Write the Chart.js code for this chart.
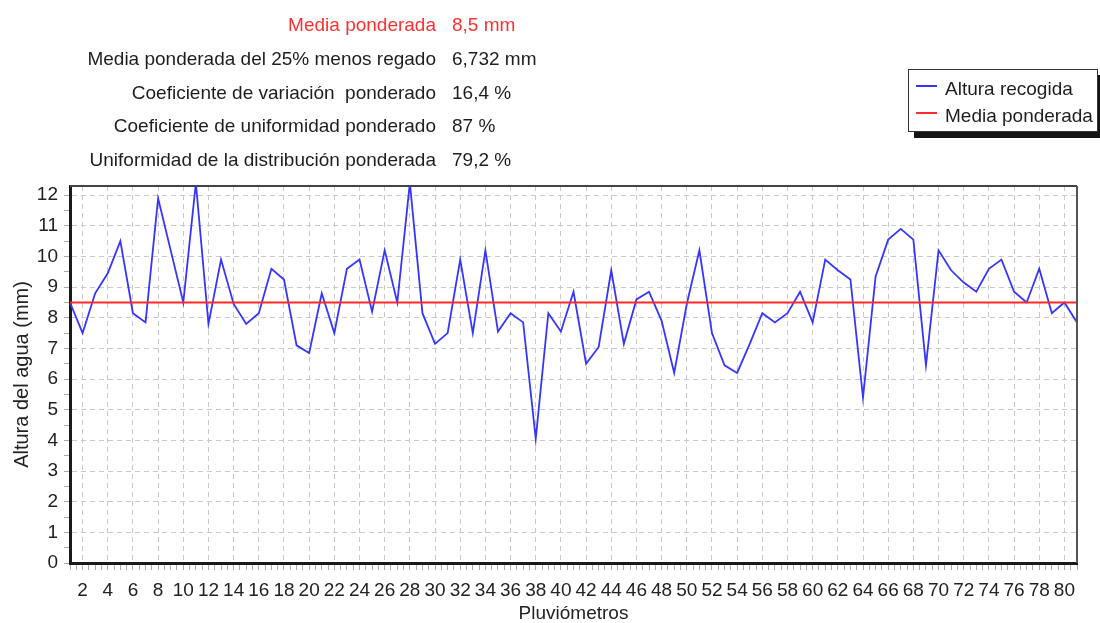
<!DOCTYPE html>
<html>
<head>
<meta charset="utf-8">
<script src="https://cdn.jsdelivr.net/npm/chart.js@4"></script>
<style>
  body { margin: 0; background: #fff; font-family: "Liberation Sans", Arial, sans-serif; }
  #wrap { position: relative; width: 1100px; height: 623px; overflow: hidden; }
  #c { position: absolute; left: 0; top: 0; }
  .stat { position: absolute; font-size: 19px; line-height: 19px; color: #1e1e1e; white-space: nowrap; }
  .stat.lbl { right: 664px; text-align: right; }
  .stat.val { left: 452px; }
  .stat.red { color: #ff3030; }
  #legend { position: absolute; left: 908px; top: 69px; width: 188px; height: 61px; border: 1px solid #333;
            background: #fff; box-shadow: 6px 6px 0 #151515; }
  #legend .sw { position: absolute; left: 7px; width: 21px; height: 2px; }
  #legend .tx { position: absolute; left: 36px; font-size: 19px; line-height: 19px; color: #1e1e1e; white-space: nowrap; }
</style>
</head>
<body>
<div id="wrap">
  <canvas id="c" width="1100" height="623"></canvas>
  <div id="stats"></div>
  <div id="legend"></div>
</div>
<script>
// datos
const pluviometros = [1, 2, 3, 4, 5, 6, 7, 8, 9, 10, 11, 12, 13, 14, 15, 16, 17, 18, 19, 20,
  21, 22, 23, 24, 25, 26, 27, 28, 29, 30, 31, 32, 33, 34, 35, 36, 37, 38, 39, 40,
  41, 42, 43, 44, 45, 46, 47, 48, 49, 50, 51, 52, 53, 54, 55, 56, 57, 58, 59, 60,
  61, 62, 63, 64, 65, 66, 67, 68, 69, 70, 71, 72, 73, 74, 75, 76, 77, 78, 79, 80, 81];
const alturaRecogida = [8.5, 7.5, 8.8, 9.45, 10.5, 8.15, 7.85, 11.9, 10.2, 8.5,
  12.4, 7.8, 9.9, 8.45, 7.8, 8.15, 9.6, 9.25, 7.1, 6.85,
  8.8, 7.5, 9.6, 9.9, 8.2, 10.2, 8.5, 12.4, 8.15, 7.15,
  7.5, 9.9, 7.5, 10.2, 7.55, 8.15, 7.85, 4.05, 8.15, 7.55,
  8.85, 6.5, 7.05, 9.55, 7.15, 8.6, 8.85, 7.9, 6.2, 8.45,
  10.2, 7.5, 6.45, 6.2, 7.15, 8.15, 7.85, 8.15, 8.85, 7.85,
  9.9, 9.55, 9.25, 5.4, 9.35, 10.55, 10.9, 10.55, 6.45, 10.2,
  9.55, 9.15, 8.85, 9.6, 9.9, 8.85, 8.5, 9.6, 8.15, 8.5, 7.85];
const mediaPonderada = 8.5;

const statLabels = ['Media ponderada', 'Media ponderada del 25% menos regado',
  'Coeficiente de variación  ponderado', 'Coeficiente de uniformidad ponderado',
  'Uniformidad de la distribución ponderada'];
const statValues = ['8,5 mm', '6,732 mm', '16,4 %', '87 %', '79,2 %'];

const azul = '#3535ff';
const rojo = '#ff2a2a';
const gris = '#c9c9c9';

// textos de arriba
const stats = document.getElementById('stats');
statLabels.forEach((t, i) => {
  const top = 15 + i * 33.8;
  const l = document.createElement('div');
  l.className = 'stat lbl' + (i == 0 ? ' red' : '');
  l.style.top = top + 'px';
  l.style.whiteSpace = 'pre';
  l.textContent = t;
  stats.appendChild(l);
  const v = document.createElement('div');
  v.className = 'stat val' + (i == 0 ? ' red' : '');
  v.style.top = top + 'px';
  v.textContent = statValues[i];
  stats.appendChild(v);
});

const isInt = v => Math.abs(v - Math.round(v)) < 1e-6;

// marco arriba / derecha
const marco = {
  id: 'marco',
  afterDraw(chart) {
    const a = chart.chartArea, c = chart.ctx;
    c.save();
    c.lineWidth = 2;
    c.strokeStyle = '#444';
    c.beginPath();
    c.moveTo(a.left, a.top);
    c.lineTo(a.right, a.top);
    c.stroke();
    c.strokeStyle = '#555';
    c.beginPath();
    c.moveTo(a.right, a.top);
    c.lineTo(a.right, a.bottom);
    c.stroke();
    c.restore();
  }
};

const tickFont = { family: '"Liberation Sans", Arial, sans-serif', size: 19 };

const chart = new Chart(document.getElementById('c'), {
  type: 'line',
  data: {
    datasets: [
      {
        label: 'Altura recogida',
        data: pluviometros.map((p, i) => ({ x: p, y: alturaRecogida[i] })),
        borderColor: azul,
        borderWidth: 1.8,
        pointRadius: 0,
        tension: 0,
        order: 1
      },
      {
        label: 'Media ponderada',
        data: [
          { x: pluviometros[0], y: mediaPonderada },
          { x: pluviometros[pluviometros.length - 1], y: mediaPonderada }
        ],
        borderColor: rojo,
        borderWidth: 2,
        pointRadius: 0,
        order: 0
      }
    ]
  },
  options: {
    responsive: false,
    animation: false,
    layout: { padding: { top: 186, right: 23, left: 0, bottom: 0 } },
    plugins: { legend: { display: false }, tooltip: { enabled: false } },
    scales: {
      x: {
        type: 'linear',
        min: 1,
        max: 81,
        afterFit: s => { s.height = 60; },
        border: { color: '#1a1a1a', width: 3, dash: [5, 4] },
        grid: {
          color: ctx => (ctx.tick && ctx.tick.value % 2 === 0) ? gris : 'rgba(0,0,0,0)',
          tickColor: '#aaa',
          tickLength: 7
        },
        ticks: {
          stepSize: 0.5,
          autoSkip: false,
          maxRotation: 0,
          minRotation: 0,
          padding: 9,
          color: '#222',
          font: tickFont,
          callback: v => (isInt(v) && Math.round(v) % 2 === 0) ? String(Math.round(v)) : ''
        },
        title: {
          display: true,
          text: 'Pluviómetros',
          color: '#222',
          font: { family: tickFont.family, size: 19, lineHeight: 1 },
          padding: { top: 0, bottom: 0 }
        }
      },
      y: {
        min: 0,
        max: 12.3,
        afterFit: s => { s.width = 70; },
        border: { color: '#1a1a1a', width: 3, dash: [5, 4] },
        grid: {
          color: ctx => (ctx.tick && isInt(ctx.tick.value)) ? gris : 'rgba(0,0,0,0)',
          tickColor: '#aaa',
          tickLength: 6
        },
        ticks: {
          stepSize: 0.5,
          includeBounds: false,
          autoSkip: false,
          padding: 6,
          color: '#222',
          font: tickFont,
          callback: v => isInt(v) ? String(Math.round(v)) : ''
        },
        title: {
          display: true,
          text: 'Altura del agua (mm)',
          color: '#222',
          font: { family: tickFont.family, size: 20 },
          padding: { top: 10, bottom: 0 }
        }
      }
    }
  },
  plugins: [marco]
});

// leyenda
const legend = document.getElementById('legend');
chart.data.datasets.forEach((ds, i) => {
  const sw = document.createElement('div');
  sw.className = 'sw';
  sw.style.top = (15 + i * 27) + 'px';
  sw.style.background = ds.borderColor;
  legend.appendChild(sw);
  const tx = document.createElement('div');
  tx.className = 'tx';
  tx.style.top = (9 + i * 27) + 'px';
  tx.textContent = ds.label;
  legend.appendChild(tx);
});
</script>
</body>
</html>
